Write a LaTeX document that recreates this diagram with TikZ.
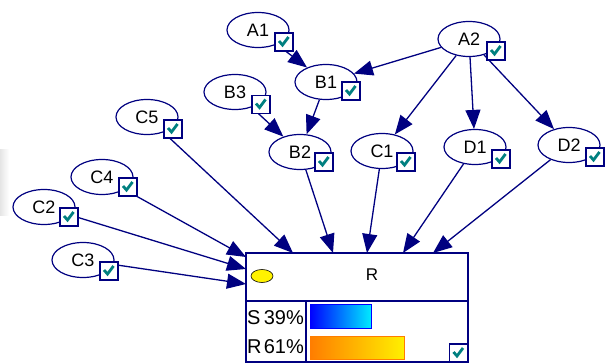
\documentclass[tikz,border=0pt]{standalone}
\usepackage{fontspec}
\setmainfont{Liberation Sans}
\usetikzlibrary{shapes.geometric,arrows.meta,backgrounds}
\definecolor{navy}{RGB}{0,0,128}
\definecolor{chk}{RGB}{0,128,128}
\definecolor{barblueA}{RGB}{0,0,255}
\definecolor{barblueB}{RGB}{0,235,255}
\definecolor{barorA}{RGB}{255,125,0}
\definecolor{barorB}{RGB}{255,240,0}
\tikzset{
  var/.style={ellipse, draw=navy, line width=1.2pt, fill=white,
    minimum width=62pt, minimum height=35pt, inner sep=0pt,
    font=\fontsize{18}{18}\selectfont},
  chkbox/.style={rectangle, draw=navy, line width=1.2pt, fill=white,
    minimum size=18pt, inner sep=0pt,
    path picture={\draw[chk, line width=2.8pt]
      ([shift={(-5pt,1pt)}]path picture bounding box.center)
      -- ++(3.5pt,-4pt) -- ++(6pt,8pt);}},
  edge/.style={navy, line width=1.3pt, -{Triangle[length=19pt,width=15pt]}},
  pct/.style={inner sep=0pt, font=\fontsize{20}{20}\selectfont},
}
\begin{document}
\begin{tikzpicture}[x=1pt,y=-1pt]
\useasboundingbox (0,0) rectangle (609,363);
\shade[left color=black!10, right color=white] (0,150) rectangle (9,215);
% variables
\node[var] (A1) at (258,30) {A1};
\node[chkbox] (A1c) at (284,42) {};
\node[var] (A2) at (469,39) {A2};
\node[chkbox] (A2c) at (496,51) {};
\node[var] (B1) at (326,82) {B1};
\node[chkbox] (B1c) at (351,91) {};
\node[var] (B3) at (235,92) {B3};
\node[chkbox] (B3c) at (261,104.5) {};
\node[var] (B2) at (300,152) {B2};
\node[chkbox] (B2c) at (324,162) {};
\node[var] (C1) at (382,151) {C1};
\node[chkbox] (C1c) at (406,162) {};
\node[var] (D1) at (475,147) {D1};
\node[chkbox] (D1c) at (501,159) {};
\node[var] (D2) at (569,145) {D2};
\node[chkbox] (D2c) at (595,157) {};
\node[var] (C5) at (147,117) {C5};
\node[chkbox] (C5c) at (173,129) {};
\node[var] (C4) at (102,177) {C4};
\node[chkbox] (C4c) at (128,187) {};
\node[var] (C2) at (44,207) {C2};
\node[chkbox] (C2c) at (69,217) {};
\node[var] (C3) at (83,260) {C3};
\node[chkbox] (C3c) at (109,271) {};
% result box
\node[draw=navy, line width=1.3pt, fill=white, minimum width=222pt,
  minimum height=109pt, inner sep=0pt] (R) at (357,307.5) {};
\draw[navy, line width=1.2pt] (246,301) -- (468,301);
\draw[navy, line width=1.2pt] (306,301) -- (306,362);
\node[ellipse, draw=black, line width=0.6pt, fill=yellow, minimum width=22pt,
  minimum height=13pt, inner sep=0pt] (Ry) at (262,276) {};
\node[inner sep=0pt, font=\fontsize{17}{17}\selectfont] (Rl) at (372,275) {R};
\node[pct, anchor=west] (s1) at (247,318) {S};
\node[pct, anchor=east] (s2) at (304,318) {39\%};
\node[pct, anchor=west] (r1) at (247,347) {R};
\node[pct, anchor=east] (r2) at (304,347) {61\%};
\shade[left color=barblueA, right color=barblueB] (310,304) rectangle (371,328);
\draw[barblueA, line width=0.8pt] (310,304) rectangle (371,328);
\shade[left color=barorA, right color=barorB] (310,336) rectangle (404,359);
\draw[barorA, line width=0.8pt] (310,336) rectangle (404,359);
\node[chkbox] (Rc) at (458.5,353) {};
% target points on the result box
\coordinate (t1) at (293,253);
\coordinate (t2) at (333,253);
\coordinate (t3) at (367,253);
\coordinate (t4) at (403,253);
\coordinate (t5) at (433,253);
\coordinate (t6) at (246,257);
\coordinate (t7) at (246,269);
\coordinate (t8) at (246,284);
\begin{scope}[on background layer]
\draw[edge] (A1) -- (B1);
\draw[edge] (A2) -- (B1);
\draw[edge] (B3) -- (B2);
\draw[edge] (B1) -- (B2);
\draw[edge] (A2) -- (C1);
\draw[edge] (A2) -- (D1);
\draw[edge] (A2) -- (D2);
\draw[edge] (C5) -- (t1);
\draw[edge] (B2) -- (t2);
\draw[edge] (C1) -- (t3);
\draw[edge] (D1) -- (t4);
\draw[edge] (D2) -- (t5);
\draw[edge] (C4) -- (t6);
\draw[edge] (C2) -- (t7);
\draw[edge] (C3) -- (t8);
\end{scope}
\end{tikzpicture}
\end{document}
